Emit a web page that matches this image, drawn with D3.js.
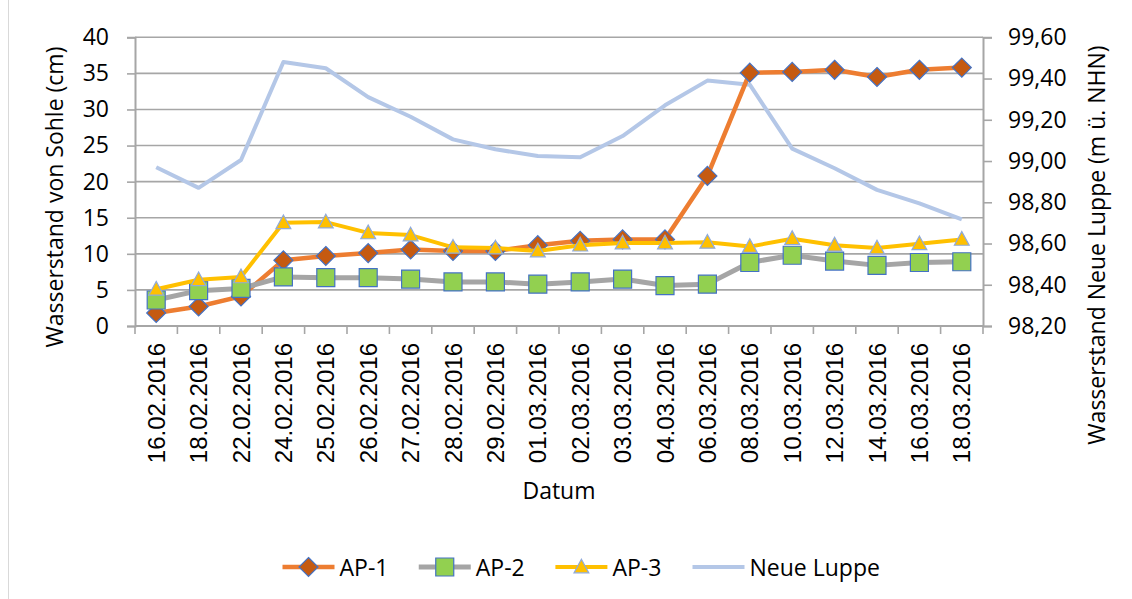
<!DOCTYPE html>
<html><head><meta charset="utf-8">
<script src="https://cdn.jsdelivr.net/npm/d3@7"></script>
<style>body{margin:0;background:#fff}svg{display:block}</style>
</head><body>
<svg id="c" width="1132" height="599"></svg>
<script>
const dates = ["16.02.2016","18.02.2016","22.02.2016","24.02.2016","25.02.2016","26.02.2016","27.02.2016","28.02.2016","29.02.2016","01.03.2016","02.03.2016","03.03.2016","04.03.2016","06.03.2016","08.03.2016","10.03.2016","12.03.2016","14.03.2016","16.03.2016","18.03.2016"];
const ap1 = [1.8, 2.7, 4.1, 9.1, 9.7, 10.1, 10.6, 10.4, 10.4, 11.2, 11.8, 12.0, 12.0, 20.8, 35.1, 35.2, 35.5, 34.5, 35.5, 35.8];
const ap2 = [3.6, 4.9, 5.2, 6.8, 6.7, 6.7, 6.5, 6.1, 6.1, 5.8, 6.1, 6.5, 5.6, 5.8, 8.8, 9.8, 9.0, 8.4, 8.8, 8.9];
const ap3 = [5.1, 6.4, 6.8, 14.3, 14.4, 12.9, 12.6, 10.9, 10.8, 10.4, 11.2, 11.5, 11.5, 11.6, 11.0, 12.1, 11.2, 10.8, 11.4, 12.0];
const luppe = [98.97, 98.87, 99.005, 99.48, 99.45, 99.31, 99.215, 99.105, 99.057, 99.024, 99.018, 99.121, 99.27, 99.39, 99.37, 99.06, 98.965, 98.86, 98.795, 98.717];
const leftTicks = [0,5,10,15,20,25,30,35,40];
const rightTicks = [98.2,98.4,98.6,98.8,99.0,99.2,99.4,99.6];
const seriesNames = ["AP-1","AP-2","AP-3","Neue Luppe"];

const svg = d3.select("#c");
const L = 135, R = 983, T = 37.3, B = 326;
const x = d3.scaleBand().domain(dates).range([L, R]);
const yL = d3.scaleLinear().domain([0,40]).range([B, T]);
const yR = d3.scaleLinear().domain([98.2,99.6]).range([B, T]);
const cx = d => x(d) + x.bandwidth()/2;
const calib = "'Open Sans', sans-serif";
const grey = "#a6a6a6";

// left border
svg.append("line").attr("x1",8.5).attr("x2",8.5).attr("y1",0).attr("y2",599).attr("stroke","#d9d9d9").attr("stroke-width",1);

// gridlines
svg.append("g").selectAll("line").data(leftTicks.filter(t=>t>0)).join("line")
  .attr("x1",L).attr("x2",R).attr("y1",d=>yL(d)).attr("y2",d=>yL(d))
  .attr("stroke",grey).attr("stroke-width",1.6);

// left axis
const ga = svg.append("g").attr("transform",`translate(${L},0)`)
  .call(d3.axisLeft(yL).tickValues(leftTicks).tickSize(8).tickPadding(18).tickFormat(d3.format("d")));
ga.select(".domain").attr("stroke",grey).attr("stroke-width",2);
ga.selectAll(".tick line").attr("stroke",grey).attr("stroke-width",1.6);
ga.selectAll("text").attr("font-family",calib).attr("font-size",23).attr("fill","#000");

// right axis
const fmtR = d => d3.format(".2f")(d).replace(".", ",");
const gr = svg.append("g").attr("transform",`translate(${R},0)`)
  .call(d3.axisRight(yR).tickValues(rightTicks).tickSize(9).tickPadding(16).tickFormat(fmtR));
gr.select(".domain").attr("stroke",grey).attr("stroke-width",2);
gr.selectAll(".tick line").attr("stroke",grey).attr("stroke-width",1.6);
gr.selectAll("text").attr("font-family",calib).attr("font-size",23).attr("fill","#000");

// bottom axis
svg.append("line").attr("x1",L).attr("x2",R).attr("y1",B).attr("y2",B).attr("stroke",grey).attr("stroke-width",2);
const bounds = dates.map(d=>x(d)).concat([R]);
svg.append("g").selectAll("line").data(bounds).join("line")
  .attr("x1",d=>d).attr("x2",d=>d).attr("y1",B).attr("y2",B+8).attr("stroke",grey).attr("stroke-width",1.6);
svg.append("g").selectAll("text").data(dates).join("text")
  .attr("transform",d=>`translate(${cx(d)+8.5},343) rotate(-90)`)
  .attr("text-anchor","end").attr("font-family","'Liberation Sans', Arial, sans-serif").attr("font-size",24)
  .attr("fill","#000").text(d=>d);

// axis titles
svg.append("text").attr("transform","translate(63,197) rotate(-90)").attr("text-anchor","middle")
  .attr("font-family",calib).attr("font-size",23).text("Wasserstand von Sohle (cm)");
svg.append("text").attr("transform","translate(1105,245) rotate(-90)").attr("text-anchor","middle")
  .attr("font-family",calib).attr("font-size",23).text("Wasserstand Neue Luppe (m ü. NHN)");
svg.append("text").attr("x",(L+R)/2).attr("y",499).attr("text-anchor","middle")
  .attr("font-family",calib).attr("font-size",23).text("Datum");

// symbols
const diamond = s => `M0,${-s}L${s},0L0,${s}L${-s},0Z`;
const square = s => `M${-s},${-s}H${s}V${s}H${-s}Z`;
const tri = s => `M0,${-s}L${s*0.95},${s*0.75}L${-s*0.95},${s*0.75}Z`;

const styles = [
  {vals: ap1, y: yL, color:"#ED7D31", w:4.5, sym: diamond(9.5), fill:"#C55A11", stroke:"#4472C4"},
  {vals: ap2, y: yL, color:"#A5A5A5", w:5, sym: square(9), fill:"#92D050", stroke:"#4472C4"},
  {vals: ap3, y: yL, color:"#FFC000", w:4, sym: tri(7.8), fill:"#FFC000", stroke:"#8FAADC"},
  {vals: luppe, y: yR, color:"#B4C7E7", w:4, sym: null}
];

const plot = svg.append("g");
function drawSeries(s){
  const line = d3.line().x((v,i)=>cx(dates[i])).y(v=>s.y(v));
  plot.append("path").attr("d",line(s.vals)).attr("fill","none").attr("stroke",s.color)
    .attr("stroke-width",s.w).attr("stroke-linejoin","round");
  if (s.sym) {
    plot.append("g").selectAll("path").data(s.vals).join("path")
      .attr("transform",(v,i)=>`translate(${cx(dates[i])},${s.y(v)})`)
      .attr("d",s.sym).attr("fill",s.fill).attr("stroke",s.stroke).attr("stroke-width",1.2);
  }
}
drawSeries(styles[3]);
drawSeries(styles[0]);
drawSeries(styles[1]);
drawSeries(styles[2]);

// legend
const legX = [282.5, 418.75, 555.4, 692.5];
const legY = 567;
const lg = svg.append("g");
seriesNames.forEach((n,i)=>{
  const s = styles[i];
  const x0 = legX[i];
  lg.append("line").attr("x1",x0).attr("x2",x0+52).attr("y1",legY).attr("y2",legY)
    .attr("stroke",s.color).attr("stroke-width",s.w);
  if (s.sym) lg.append("path").attr("transform",`translate(${x0+26},${legY})`).attr("d",s.sym)
    .attr("fill",s.fill).attr("stroke",s.stroke).attr("stroke-width",1.2);
  lg.append("text").attr("x",x0+57).attr("y",legY+8.5).attr("font-family",calib).attr("font-size",23)
    .attr("fill","#000").text(n);
});
</script>
</body></html>
